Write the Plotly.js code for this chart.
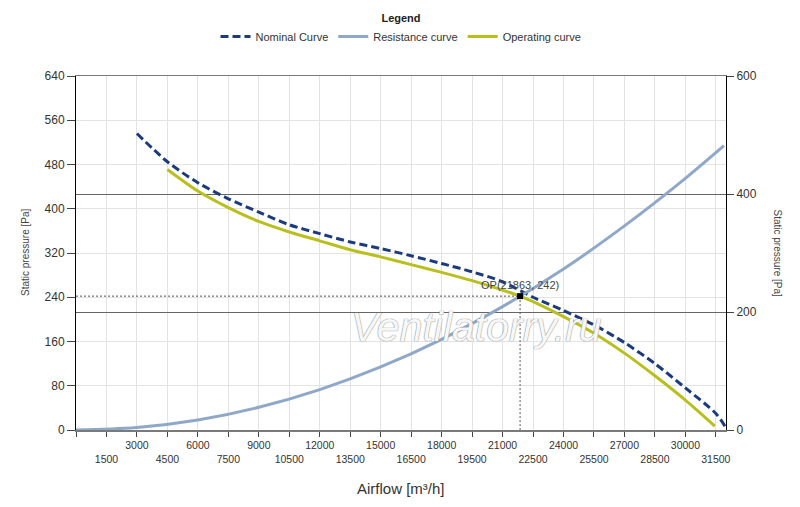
<!DOCTYPE html>
<html>
<head>
<meta charset="utf-8">
<script src="https://cdn.plot.ly/plotly-3.0.1.min.js"></script>
<style>html,body{margin:0;padding:0;background:#fff;}#chart{width:800px;height:507px;}</style>
</head>
<body>
<div id="chart"></div>
<script>
// Nominal curve
const nominalX = [3000, 4500, 6000, 7500, 9000, 10500, 12000, 13500, 15000, 16500, 18000, 19500, 21000, 22500, 24000, 25500, 27000, 28500, 30000, 31500, 31950];
const nominalY = [536, 485, 447, 418, 394, 371, 355, 340, 328, 315, 301, 286, 268, 240, 216, 190, 158, 120, 76, 30, 7];
// Resistance curve
const resistX = [0, 3000, 6000, 9000, 12000, 15000, 18000, 21000, 24000, 27000, 30000, 31900];
const resistY = [0, 4.5, 18, 41, 73, 114, 164, 223, 291, 369, 455, 514];
// Operating curve
const operX = [4500, 6000, 7500, 9000, 10500, 12000, 13500, 15000, 16500, 18000, 19500, 21000, 21863, 22500, 24000, 25500, 27000, 28500, 30000, 31450];
const operY = [471, 432, 402, 377, 358, 342, 326, 313, 299, 285, 270, 253, 242, 232, 205, 175, 139, 98, 54, 7];
// Operating point
const opX = 21863;
const opY = 242;
// Tick labels
const xTickVals = [0,1500,3000,4500,6000,7500,9000,10500,12000,13500,15000,16500,18000,19500,21000,22500,24000,25500,27000,28500,30000,31500];
const yTickVals = [0,80,160,240,320,400,480,560,640];
const y2TickVals = [0,200,400,600];

const xTickText = xTickVals.map((v,i) => v === 0 ? '' : (v % 3000 === 0 ? String(v) : '<br>' + v));

const font = 'Arial, "Liberation Sans", sans-serif';

const traces = [
  {x: nominalX, y: nominalY, name: 'Nominal Curve', mode: 'lines', line: {color: '#1b3b7d', width: 3, dash: '8px,4px', shape: 'spline', smoothing: 0.8}},
  {x: resistX, y: resistY, name: 'Resistance curve', mode: 'lines', line: {color: '#8fa8c7', width: 3, shape: 'spline'}},
  {x: operX, y: operY, name: 'Operating curve', mode: 'lines', line: {color: '#b9bf1e', width: 3, shape: 'spline', smoothing: 0.8}},
  {x: [0, opX], y: [opY, opY], mode: 'lines', showlegend: false, hoverinfo: 'skip', line: {color: '#555', width: 1, dash: '2px,2px'}},
  {x: [opX, opX], y: [opY, 0], mode: 'lines', showlegend: false, hoverinfo: 'skip', line: {color: '#555', width: 1, dash: '2px,2px'}},
  {x: [opX], y: [opY], mode: 'markers', showlegend: false, marker: {symbol: 'square', size: 6, color: '#000'}},
  {x: [0, 32000], y: [0, 0], yaxis: 'y2', mode: 'lines', showlegend: false, hoverinfo: 'skip', line: {color: 'rgba(0,0,0,0)', width: 0}}
];

const layout = {
  width: 800, height: 507,
  margin: {l: 75.5, r: 74, t: 75.7, b: 77},
  paper_bgcolor: '#fff', plot_bgcolor: '#fff',
  font: {family: font, size: 11, color: '#333'},
  showlegend: true,
  legend: {
    orientation: 'h', x: 0.5, xanchor: 'center', y: 0.985, yanchor: 'top', yref: 'container',
    title: {text: '<b>Legend</b>', side: 'top center', font: {size: 11, color: '#222'}},
    font: {size: 11, color: '#333'}, itemwidth: 30, tracegroupgap: 0
  },
  xaxis: {
    range: [0, 32000], tickmode: 'array', tickvals: xTickVals, ticktext: xTickText, tickangle: 0,
    ticks: 'outside', ticklen: 5, tickcolor: '#444', tickfont: {size: 10.5, color: '#333'},
    showgrid: true, gridcolor: '#e3e3e3', gridwidth: 1,
    showline: true, linecolor: '#7a7a7a', linewidth: 1.5, mirror: true, zeroline: false
  },
  yaxis: {
    range: [0, 640], tickmode: 'array', tickvals: yTickVals,
    ticks: 'outside', ticklen: 8, tickcolor: '#444', tickfont: {size: 12, color: '#333'},
    showgrid: true, gridcolor: '#e3e3e3', gridwidth: 1,
    showline: true, linecolor: '#000', linewidth: 1, zeroline: false
  },
  yaxis2: {
    range: [0, 600], overlaying: 'y', side: 'right', tickmode: 'array', tickvals: y2TickVals,
    ticks: 'outside', ticklen: 7, tickcolor: '#444', tickfont: {size: 12, color: '#333'},
    showgrid: true, gridcolor: '#666', gridwidth: 1,
    showline: true, linecolor: '#000', linewidth: 1, zeroline: false
  },
  annotations: [
    {text: 'Airflow [m³/h]', xref: 'paper', yref: 'paper', x: 0.5, y: 0, yanchor: 'middle', yshift: -58, showarrow: false, font: {size: 15, color: '#333'}},
    {text: 'Static pressure [Pa]', xref: 'paper', yref: 'paper', x: 0, y: 0.5, xshift: -58.5, textangle: -90, showarrow: false, font: {size: 10, color: '#444'}},
    {text: 'Static pressure [Pa]', xref: 'paper', yref: 'paper', x: 1, y: 0.5, xshift: 59, textangle: 90, showarrow: false, font: {size: 10, color: '#444'}},
    {text: 'OP(' + opX + ', ' + opY + ')', x: opX, y: opY, xref: 'x', yref: 'y', yshift: 11, showarrow: false, font: {size: 11, color: '#444'}},
    {text: 'Ventilatorry.ru', xref: 'paper', yref: 'paper', x: (604-75.5)/650.5, y: (430-352)/354.3, showarrow: false,
     font: {size: 41, color: '#f7f7f7', style: 'italic', shadow: '0 0 1px #888, 0 0 1px #888'}}
  ]
};

Plotly.newPlot('chart', traces, layout, {displayModeBar: false, staticPlot: true});
</script>
</body>
</html>
